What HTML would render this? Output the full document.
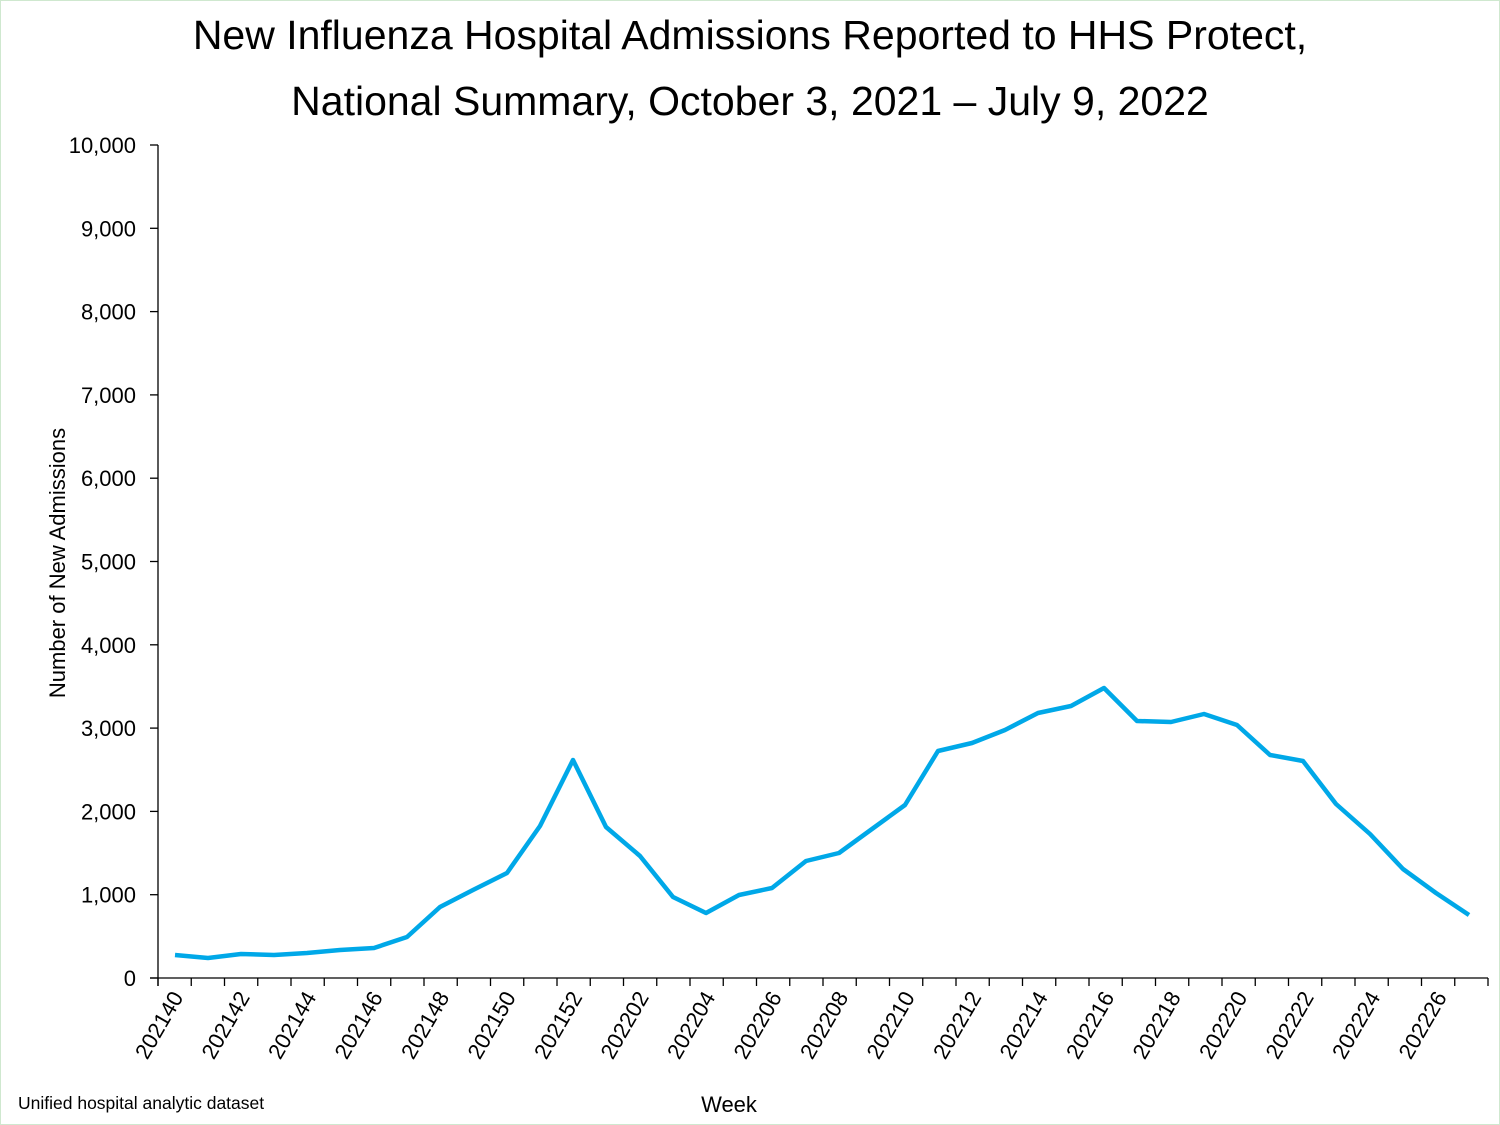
<!DOCTYPE html>
<html><head><meta charset="utf-8"><style>
body{margin:0;background:#fff}
svg{display:block;font-family:"Liberation Sans",sans-serif}
</style></head><body>
<svg width="1500" height="1125" viewBox="0 0 1500 1125">
<rect x="0.5" y="0.5" width="1499" height="1124" fill="#fff" stroke="#cfe8cf"/>
<text x="750" y="49" font-size="41" text-anchor="middle" fill="#000">New Influenza Hospital Admissions Reported to HHS Protect,</text>
<text x="750" y="115" font-size="41" text-anchor="middle" fill="#000">National Summary, October 3, 2021 – July 9, 2022</text>
<g stroke="#000" stroke-width="1.3">
<line x1="158" y1="145" x2="158" y2="986"/>
<line x1="150" y1="978" x2="1488" y2="978"/>
<g id="yt"></g><g id="xt"></g>
</g>
<g id="yl" font-size="22" text-anchor="end"></g>
<g id="xl" font-size="22" text-anchor="end"></g>
<text transform="translate(65,563) rotate(-90)" font-size="22" text-anchor="middle">Number of New Admissions</text>
<text x="729" y="1112" font-size="22" text-anchor="middle">Week</text>
<text x="18" y="1109" font-size="17.5">Unified hospital analytic dataset</text>
<polyline fill="none" stroke="#00a8e8" stroke-width="4.5" stroke-linejoin="round" points="175,955 208,958 241,954 274,955 307,953 340,950 374,948 407,937 440,907 473,890 507,873 540,826 573,760 606,827 640,856 673,897 706,913 739,895 772,888 806,861 839,853 872,829 905,805 938,751 972,743 1005,730 1038,713 1071,706 1104,688 1137,721 1171,722 1204,714 1237,725 1270,755 1303,761 1336,804 1370,834 1403,869 1436,893 1469,915"/>
<script>
var ns="http://www.w3.org/2000/svg";
function el(p,t,a,txt){var e=document.createElementNS(ns,t);for(var k in a)e.setAttribute(k,a[k]);if(txt)e.textContent=txt;document.getElementById(p).appendChild(e);}
for(var i=0;i<=10;i++){var y=978-i*83.3;el("yt","line",{x1:150,y1:y,x2:158,y2:y});
el("yl","text",{x:136,y:y+8},i==0?"0":(i*1000).toLocaleString("en-US"));}
for(var j=0;j<=40;j++){var x=158+j*33.25;el("xt","line",{x1:x,y1:978,x2:x,y2:986});}
for(var j=0;j<40;j+=2){var x=175+j*33.25;var w=j<13?"2021"+(40+j):"2022"+String(j-12).padStart(2,"0");
el("xl","text",{transform:"translate("+(x+9)+",997) rotate(-60)"},w);}
</script>
</svg>
</body></html>
